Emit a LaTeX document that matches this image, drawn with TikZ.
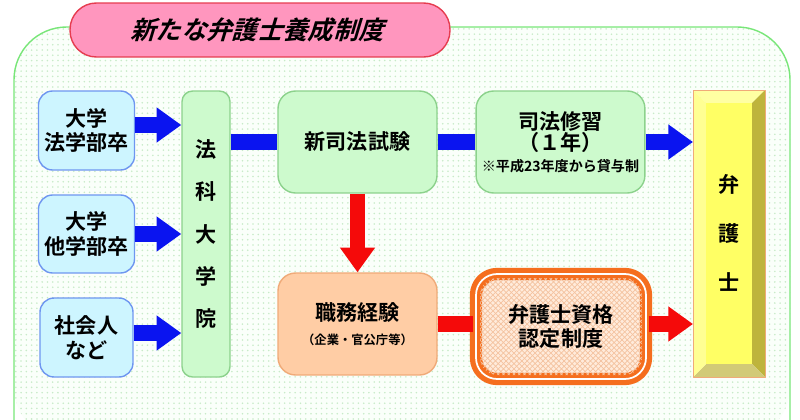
\documentclass[tikz,border=0pt]{standalone}
\usepackage{fontspec}
\setmainfont{Noto Sans CJK JP Bold}
\usetikzlibrary{arrows.meta, patterns}

\definecolor{paneline}{RGB}{120,230,120}
\definecolor{panefill}{RGB}{250,255,250}
\definecolor{dotgreen}{RGB}{200,235,200}
\definecolor{titlefill}{RGB}{255,150,190}
\definecolor{titleline}{RGB}{230,60,80}
\definecolor{srcfill}{RGB}{205,245,255}
\definecolor{srcline}{RGB}{110,150,240}
\definecolor{stepfill}{RGB}{205,250,205}
\definecolor{stepline}{RGB}{140,210,140}
\definecolor{workfill}{RGB}{255,205,165}
\definecolor{workline}{RGB}{240,170,120}
\definecolor{certline}{RGB}{245,110,30}
\definecolor{goalfill}{RGB}{255,255,100}
\definecolor{goalside}{RGB}{190,180,60}
\definecolor{flowblue}{RGB}{10,20,240}
\definecolor{flowred}{RGB}{245,10,10}

\tikzset{
  srcbox/.style={draw=srcline, fill=srcfill, rounded corners=8pt, thick, align=center, font=\large},
  stepbox/.style={draw=stepline, fill=stepfill, rounded corners=10pt, thick, align=center},
  blueflow/.style={flowblue, line width=9pt, -{Triangle[length=14pt, width=19pt]}},
  redflow/.style={flowred, line width=9pt, -{Triangle[length=14pt, width=19pt]}},
}

\begin{document}
\begin{tikzpicture}[x=0.02cm, y=-0.02cm, line join=round]

    \useasboundingbox (0,0) rectangle (800,419);

    % Pane
    \fill[panefill, rounded corners=30pt] (14,27) rectangle (790,440);
    \fill[pattern=dots, pattern color=dotgreen, rounded corners=30pt] (14,27) rectangle (790,440);
    \draw[paneline, thick, rounded corners=30pt] (14,440) -- (14,27) -- (790,27) -- (790,440);

    % Title
    \node[draw=titleline, fill=titlefill, thick, rounded corners=15pt, minimum width=7.6cm,
          minimum height=1.08cm] (title) at (260,30) {};
    \node[xslant=0.3, transform shape, font=\Large] (titletext) at (title) {新たな弁護士養成制度};

    % Entry routes
    \node[srcbox, minimum width=1.86cm, minimum height=1.58cm] (law) at (86.5,130.5) {大学\\法学部卒};
    \node[srcbox, minimum width=1.86cm, minimum height=1.56cm] (other) at (86.5,234) {大学\\他学部卒};
    \node[srcbox, minimum width=1.86cm, minimum height=1.58cm] (adult) at (86.5,337.5) {社会人\\など};

    % Law school
    \node[stepbox, rounded corners=6pt, minimum width=0.96cm, minimum height=5.72cm, font=\large]
        (school) at (206,234) {法\\[10pt]科\\[10pt]大\\[10pt]学\\[10pt]院};

    % Exam and training
    \node[stepbox, minimum width=3.18cm, minimum height=2.04cm, font=\large] (exam) at (357.5,142) {新司法試験};
    \node[stepbox, minimum width=3.3cm, minimum height=2.04cm] (train) at (560.5,142)
        {\large 司法修習\\\large （１年）\\\footnotesize ※平成23年度から貸与制};

    % Work experience and certification
    \node[draw=workline, fill=workfill, thick, rounded corners=10pt, minimum width=3.18cm,
          minimum height=2.04cm, align=center] (work) at (357.5,324)
        {\large 職務経験\\[2pt]\scriptsize （企業・官公庁等）};
    \node[draw=certline, line width=3pt, double=white, double distance=1pt, fill=workfill!40,
          rounded corners=12pt, minimum width=3.4cm, minimum height=2.1cm] (certbg) at (561,326.5) {};
    \fill[pattern=crosshatch, pattern color=workline!70, rounded corners=10pt] (480,278) rectangle (642,375);
    \node[align=center, font=\large] (cert) at (certbg) {弁護士資格\\認定制度};

    % Lawyer (bevel)
    \fill[goalfill!60] (693,90) -- (765,90) -- (752,103) -- (706,103) -- cycle;
    \fill[goalside] (765,90) -- (765,377) -- (752,364) -- (752,103) -- cycle;
    \fill[goalside!70] (693,377) -- (765,377) -- (752,364) -- (706,364) -- cycle;
    \fill[goalfill!70] (693,90) -- (706,103) -- (706,364) -- (693,377) -- cycle;
    \fill[goalfill] (706,103) rectangle (752,364);
    \draw[workline, thin] (693,90) rectangle (765,377);
    \node[align=center, font=\large] (lawyer) at (729,233) {弁\\[14pt]護\\[14pt]士};

    % Flows
    \draw[blueflow] (law.east |- 0,125) -- (school.west |- 0,125);
    \draw[blueflow] (other.east) -- (school.west |- other.east);
    \draw[blueflow] (adult.east |- 0,333) -- (school.west |- 0,333);
    \draw[flowblue, line width=9pt] (school.east |- exam.west) -- (exam.west);
    \draw[flowblue, line width=9pt] (exam.east) -- (train.west);
    \draw[blueflow] (train.east) -- (693,142);
    \draw[redflow] (exam.south) -- (work.north);
    \draw[flowred, line width=9pt] (work.east) -- (certbg.west |- work.east);
    \draw[redflow] (certbg.east |- work.east) -- (693,324);

\end{tikzpicture}
\end{document}
